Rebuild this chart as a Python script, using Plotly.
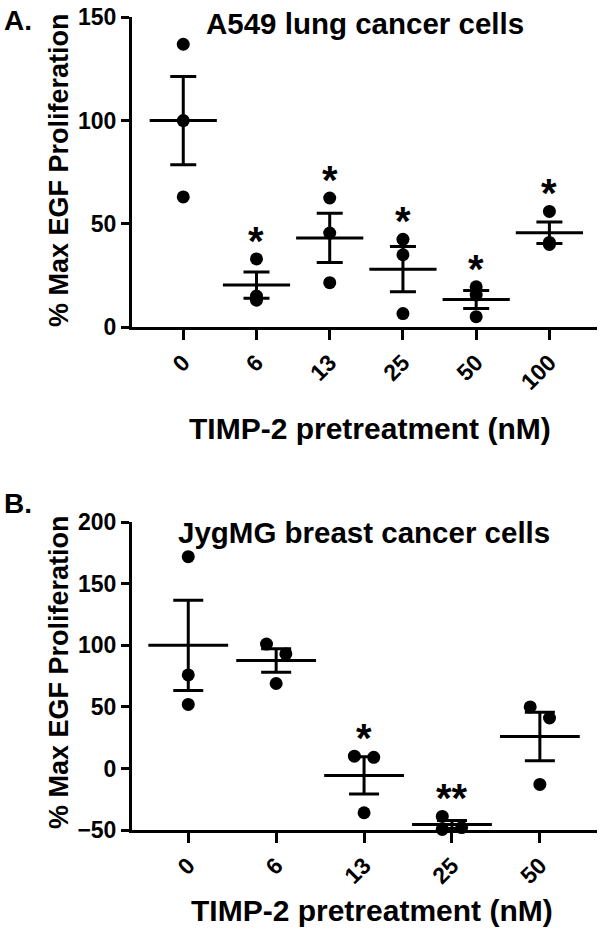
import numpy as np
import plotly.graph_objects as go

# ---------------- data ----------------
conc_A = ["0", "6", "13", "25", "50", "100"]
A_0 = [137, 100, 63]
A_6 = [33, 15, 13]
A_13 = [62.5, 45.5, 21.5]
A_25 = [42.5, 35, 6.5]
A_50 = [19.5, 15.5, 5]
A_100 = [56, 41, 40]
vals_A = [A_0, A_6, A_13, A_25, A_50, A_100]
sig_A = ["", "*", "*", "*", "*", "*"]

conc_B = ["0", "6", "13", "25", "50"]
B_0 = [172, 76, 52]
B_6 = [101, 93, 69]
B_13 = [10, 9, -36]
B_25 = [-39, -48, -49.5]
B_50 = [50, 41, -13]
vals_B = [B_0, B_6, B_13, B_25, B_50]
sig_B = ["", "", "*", "**", ""]

yticks_A = [0, 50, 100, 150]
yticks_B = [-50, 0, 50, 100, 150, 200]

title_A = "A549 lung cancer cells"
title_B = "JygMG breast cancer cells"
xtitle = "TIMP-2 pretreatment (nM)"
ytitle = "% Max EGF Proliferation"

# ---------------- layout helpers ----------------
W, H = 600, 934
L, R = 132, 3
PW = W - L - R
FONT = "Liberation Sans"


def px2x(px):
    return (px - L) / PW


def py2y(py):
    return 1 - py / H


def dom(top_px, bot_px):
    return [py2y(bot_px), py2y(top_px)]


def jitter(vals, px_per_unit, diam=13, off=0.11):
    """spread points that would overlap horizontally"""
    order = np.argsort(vals)[::-1]
    offs = np.zeros(len(vals))
    i = 0
    while i < len(order):
        j = i
        while j + 1 < len(order) and (vals[order[j]] - vals[order[j + 1]]) * px_per_unit < diam:
            j += 1
        if j > i:
            k = 0
            for m in range(i, j + 1):
                offs[order[m]] = -off if k % 2 == 0 else off
                k += 1
        i = j + 1
    return offs


fig = go.Figure()

panels = [
    dict(vals=vals_A, cats=conc_A, sig=sig_A, xa="x", ya="y", mw=48, cap=13,
         ppu=2.067, jit=False),
    dict(vals=vals_B, cats=conc_B, sig=sig_B, xa="x2", ya="y2", mw=57, cap=15,
         ppu=1.232, jit=True),
]

annotations = []
for p in panels:
    xs, ys = [], []
    means, sems = [], []
    for i, v in enumerate(p["vals"]):
        v = np.array(v, dtype=float)
        offs = jitter(v, p["ppu"]) if p["jit"] else np.zeros(len(v))
        xs += list(i + offs)
        ys += list(v)
        means.append(v.mean())
        sems.append(v.std(ddof=1) / np.sqrt(len(v)))
        if p["sig"][i]:
            annotations.append(dict(
                x=i, y=v.max(), xref=p["xa"], yref=p["ya"], text=p["sig"][i],
                showarrow=False, yshift=18, yanchor="middle",
                font=dict(family=FONT, size=40, color="black", weight="bold")))
    fig.add_trace(go.Scatter(
        x=xs, y=ys, mode="markers", xaxis=p["xa"], yaxis=p["ya"],
        marker=dict(color="black", size=13), cliponaxis=False, showlegend=False,
        hoverinfo="skip"))
    fig.add_trace(go.Scatter(
        x=list(range(len(p["vals"]))), y=means, mode="markers",
        xaxis=p["xa"], yaxis=p["ya"], cliponaxis=False, showlegend=False,
        hoverinfo="skip",
        marker=dict(symbol="line-ew", size=p["mw"], color="black",
                    line=dict(color="black", width=3)),
        error_y=dict(type="data", array=sems, visible=True, color="black",
                     thickness=3, width=p["cap"])))

tickfont = dict(family=FONT, size=23, color="black", weight="bold")
axcommon = dict(showline=True, linewidth=3, linecolor="black", ticks="outside",
                tickwidth=3, tickcolor="black", showgrid=False, zeroline=False,
                tickfont=tickfont, automargin=False, ticklabeloverflow="allow")

fig.update_layout(
    template="none",
    width=W, height=H, margin=dict(l=L, r=R, t=0, b=0, autoexpand=False),
    plot_bgcolor="white", paper_bgcolor="white",
    font=dict(family=FONT, color="black", weight="bold"),
    xaxis=dict(domain=[0, 1], anchor="y", range=[-0.70, 5.65], tickmode="array",
               tickvals=list(range(len(conc_A))), ticktext=conc_A, tickangle=-45,
               ticklen=10, **axcommon),
    yaxis=dict(domain=dom(17, 327), anchor="x", range=[0, 150.2], tickmode="array",
               tickvals=yticks_A, ticklen=8, **axcommon),
    xaxis2=dict(domain=[0, 1], anchor="y2", range=[-0.64, 4.65], tickmode="array",
                tickvals=list(range(len(conc_B))), ticktext=conc_B, tickangle=-45,
                ticklen=10, **axcommon),
    yaxis2=dict(domain=dom(522, 830), anchor="x2", range=[-50, 200.2], tickmode="array",
                tickvals=yticks_B, ticklen=8, **axcommon),
)


def txt(text, px, py, size, angle=0, xanchor="center"):
    annotations.append(dict(
        text=text, x=px2x(px), y=py2y(py), xref="paper", yref="paper",
        showarrow=False, xanchor=xanchor, yanchor="middle", textangle=angle,
        font=dict(family=FONT, size=size, color="black", weight="bold")))


txt("A.", 2, 20, 28, xanchor="left")
txt("B.", 2, 504, 28, xanchor="left")
txt(title_A, 365, 24, 29.5)
txt(title_B, 364, 532, 29.5)
txt(ytitle, 59, 170, 27, angle=-90)
txt(ytitle, 59, 672, 27, angle=-90)
txt(xtitle, 370, 428, 30)
txt(xtitle, 372, 910, 30)

fig.update_layout(annotations=annotations)
# remove the browser's default 8px body margin so the figure sits at the page origin
fig.write_html("out.html", config={"displayModeBar": False},
               post_script="document.body.style.margin='0px';")
